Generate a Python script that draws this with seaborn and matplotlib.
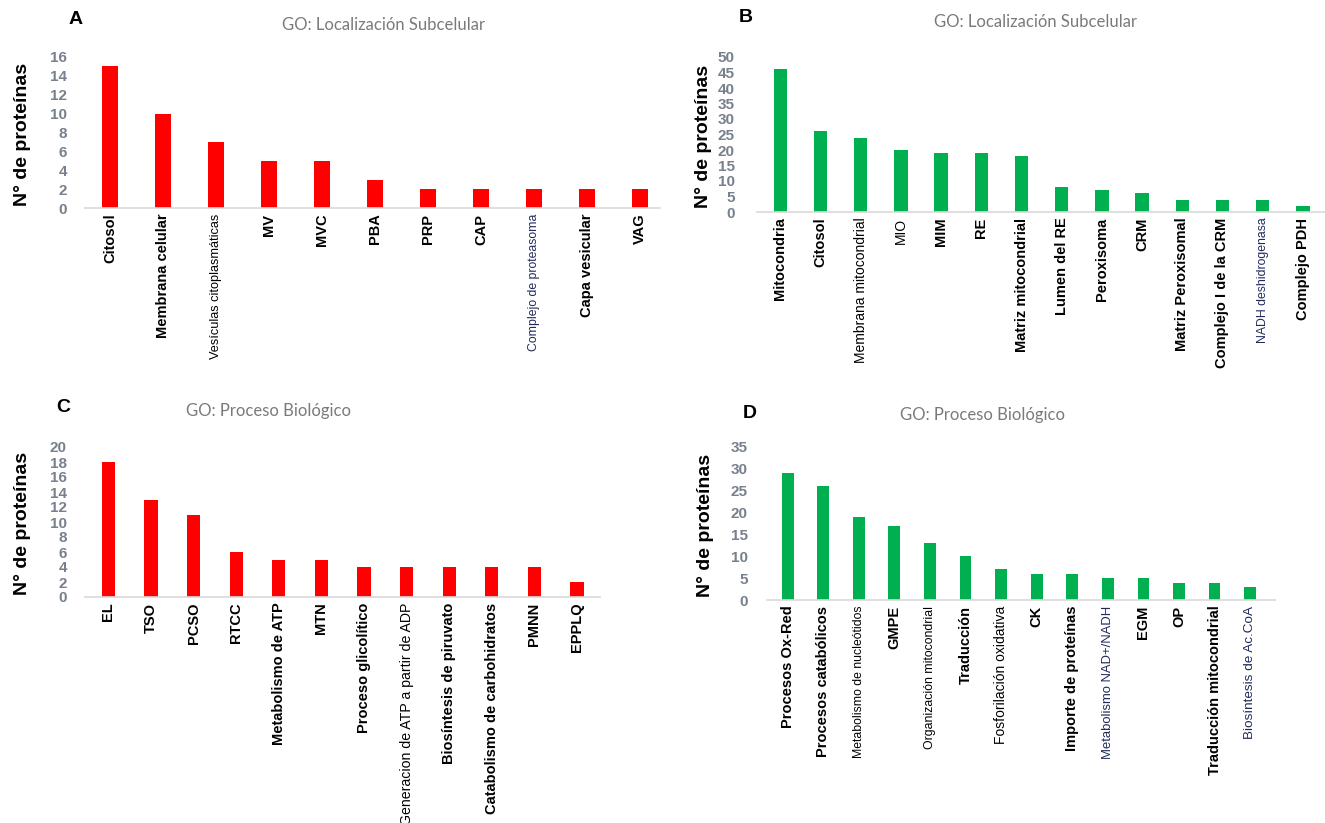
import matplotlib
matplotlib.use("Agg")
import matplotlib.pyplot as plt
import seaborn as sns
import pandas as pd

# ---- data -------------------------------------------------------------
loc_a_labels = ["Citosol", "Membrana celular", "Vesículas citoplasmáticas", "MV", "MVC",
                "PBA", "PRP", "CAP", "Complejo de proteasoma", "Capa vesicular", "VAG"]
loc_a_values = [15, 10, 7, 5, 5, 3, 2, 2, 2, 2, 2]

loc_b_labels = ["Mitocondria", "Citosol", "Membrana mitocondrial", "MIO", "MIM", "RE",
                "Matriz mitocondrial", "Lumen del RE", "Peroxisoma", "CRM",
                "Matriz Peroxisomal", "Complejo I de la CRM", "NADH deshidrogenasa",
                "Complejo PDH"]
loc_b_values = [46, 26, 24, 20, 19, 19, 18, 8, 7, 6, 4, 4, 4, 2]

proc_c_labels = ["EL", "TSO", "PCSO", "RTCC", "Metabolismo de ATP", "MTN",
                 "Proceso glicolítico", "Generacion de ATP a partir de ADP",
                 "Biosíntesis de piruvato", "Catabolismo de carbohidratos", "PMNN", "EPPLQ"]
proc_c_values = [18, 13, 11, 6, 5, 5, 4, 4, 4, 4, 4, 2]

proc_d_labels = ["Procesos Ox-Red", "Procesos catabólicos", "Metabolismo de nucleótidos",
                 "GMPE", "Organización mitocondrial", "Traducción", "Fosforilación oxidativa",
                 "CK", "Importe de proteínas", "Metabolismo NAD+/NADH", "EGM", "OP",
                 "Traducción mitocondrial", "Biosíntesis de Ac.CoA"]
proc_d_values = [29, 26, 19, 17, 13, 10, 7, 6, 6, 5, 5, 4, 4, 3]

# category labels set in the regular (non-bold) face, with their sizes
light_labels = {"Vesículas citoplasmáticas": 9.2, "Complejo de proteasoma": 8.8,
                "Membrana mitocondrial": 10.0, "MIO": 10.0, "NADH deshidrogenasa": 8.8,
                "Generacion de ATP a partir de ADP": 10.2,
                "Metabolismo de nucleótidos": 8.8, "Organización mitocondrial": 8.8,
                "Fosforilación oxidativa": 10.0, "Metabolismo NAD+/NADH": 9.4,
                "Biosíntesis de Ac.CoA": 9.7}
navy_labels = {"Complejo de proteasoma", "NADH deshidrogenasa",
               "Metabolismo NAD+/NADH", "Biosíntesis de Ac.CoA"}

RED = "#FF0000"
GREEN = "#00B050"

sns.set_theme(style="white")
plt.rcParams["font.family"] = ["Liberation Sans", "DejaVu Sans"]

W, H = 1325, 823
fig = plt.figure(figsize=(W / 100, H / 100), dpi=100)


def px_axes(x0, x1, ytop, ybase):
    return fig.add_axes([x0 / W, (H - ybase) / H, (x1 - x0) / W, (ybase - ytop) / H])


def panel(ax, labels, values, color, ymax, ystep, xlim, width, ypad):
    df = pd.DataFrame({"cat": labels, "n": values})
    sns.barplot(data=df, x="cat", y="n", color=color, width=width, ax=ax,
                saturation=1, edgecolor="none")
    ax.set_xlim(*xlim)
    ax.set_ylim(0, ymax)
    ax.set_yticks(range(0, ymax + 1, ystep))
    ax.set_xlabel("")
    ax.set_ylabel("")
    for s in ("top", "right", "left"):
        ax.spines[s].set_visible(False)
    ax.spines["bottom"].set_color("#d9d9d9")
    ax.spines["bottom"].set_linewidth(1.2)
    ax.tick_params(axis="both", length=0)
    ax.tick_params(axis="y", pad=ypad)
    ax.tick_params(axis="x", pad=4)
    for t in ax.get_yticklabels():
        t.set_fontfamily(["Liberation Sans Narrow", "Liberation Sans"])
        t.set_fontweight("bold")
        t.set_fontsize(11)
        t.set_color("#77808e")
    ax.set_xticks(range(len(labels)))
    ax.set_xticklabels(labels, rotation=90, ha="center", va="top")
    for t in ax.get_xticklabels():
        txt = t.get_text()
        if txt in light_labels:
            t.set_fontsize(light_labels[txt])
            t.set_fontweight("normal")
        else:
            t.set_fontsize(10.5)
            t.set_fontweight("bold")
        t.set_color("#1f2a5a" if txt in navy_labels else "black")


ax_a = px_axes(85, 660, 57, 208)
panel(ax_a, loc_a_labels, loc_a_values, RED, 16, 2, (-0.47, 10.38), 0.31, 13)

ax_b = px_axes(757, 1325, 57, 212)
panel(ax_b, loc_b_labels, loc_b_values, GREEN, 50, 5, (-0.58, 13.55), 0.33, 16)

ax_c = px_axes(85, 600, 447, 597)
panel(ax_c, proc_c_labels, proc_c_values, RED, 20, 2, (-0.55, 11.54), 0.31, 13)

ax_d = px_axes(767, 1275, 447, 600)
panel(ax_d, proc_d_labels, proc_d_values, GREEN, 35, 5, (-0.58, 13.7), 0.33, 14)


def ftext(x, y, s, **kw):
    fig.text(x / W, 1 - y / H, s, **kw)


title_kw = dict(ha="center", va="center", fontsize=12, color="#7a7a7a",
                family=["Lato", "DejaVu Sans"])
ftext(383, 25, "GO: Localización Subcelular", **title_kw)
ftext(1035, 22, "GO: Localización Subcelular", **title_kw)
ftext(268, 411, "GO: Proceso Biológico", **title_kw)
ftext(982, 415, "GO: Proceso Biológico", **title_kw)

letter_kw = dict(ha="center", va="center", fontsize=14, fontweight="bold", color="black")
ftext(76, 20, "A", **letter_kw)
ftext(746, 18, "B", **letter_kw)
ftext(63, 408, "C", **letter_kw)
ftext(750, 413, "D", **letter_kw)

ylab_kw = dict(ha="center", va="center", rotation=90, fontsize=14,
               fontweight="bold", color="black")
ftext(23, 134, "N° de proteínas", **ylab_kw)
ftext(704, 136, "N° de proteínas", **ylab_kw)
ftext(23, 523, "N° de proteínas", **ylab_kw)
ftext(706, 525, "N° de proteínas", **ylab_kw)

fig.savefig("out.png", dpi=100, facecolor="white")
